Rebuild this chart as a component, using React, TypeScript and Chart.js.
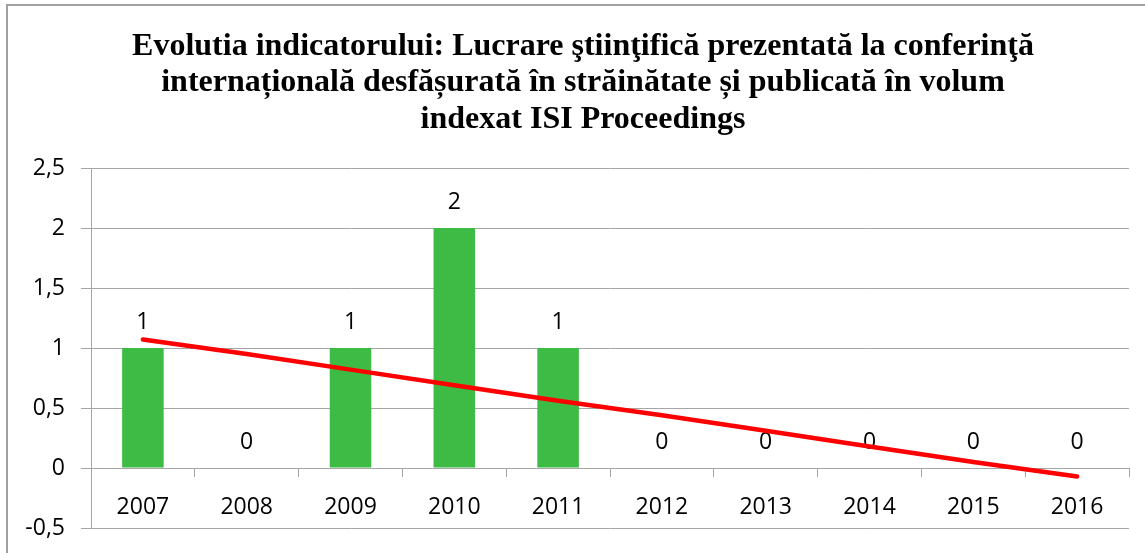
import React, { useEffect, useRef } from "react";
import { Chart, registerables } from "chart.js";

Chart.register(...registerables);

const years = ["2007", "2008", "2009", "2010", "2011", "2012", "2013", "2014", "2015", "2016"];
const values = [1, 0, 1, 2, 1, 0, 0, 0, 0, 0];
const trendValues = [1.07, 0.95, 0.82, 0.69, 0.56, 0.44, 0.31, 0.18, 0.05, -0.07];
const titleLines = [
  "Evolutia indicatorului: Lucrare ştiinţifică prezentată la conferinţă",
  "internațională desfășurată în străinătate și publicată în volum",
  "indexat ISI Proceedings",
];

const LABEL_FONT = "'Open Sans', 'Noto Sans', sans-serif";
const TITLE_FONT = "bold 32px 'Liberation Serif', 'Times New Roman', serif";
const GRID = "#a6a6a6";

const barLabels = {
  id: "barLabels",
  afterDatasetDraw(chart: any, args: any) {
    if (args.index !== 0) return;
    const ctx = chart.ctx;
    const meta = args.meta;
    ctx.save();
    ctx.font = `23px ${LABEL_FONT}`;
    ctx.fillStyle = "#000";
    ctx.textAlign = "center";
    ctx.textBaseline = "middle";
    meta.data.forEach((el: any, i: number) => {
      ctx.fillText(String(values[i]), el.x, el.y - 26);
    });
    ctx.restore();
  },
};

const chartTitle = {
  id: "chartTitle",
  afterDraw(chart: any) {
    const ctx = chart.ctx;
    ctx.save();
    ctx.font = TITLE_FONT;
    ctx.fillStyle = "#000";
    ctx.textAlign = "center";
    ctx.textBaseline = "middle";
    titleLines.forEach((line, i) => {
      ctx.fillText(line, 583, 46.5 + i * 36.5);
    });
    ctx.restore();
  },
};

export default function App() {
  const ref = useRef<HTMLCanvasElement | null>(null);
  useEffect(() => {
    if (!ref.current) return;
    const chart = new Chart(ref.current, {
      type: "bar",
      data: {
        labels: years,
        datasets: [
          {
            type: "bar",
            data: values,
            backgroundColor: "#3dbb44",
            categoryPercentage: 1,
            barPercentage: 0.4,
            order: 2,
          } as any,
          {
            type: "line",
            data: trendValues,
            borderColor: "#ff0000",
            borderWidth: 4.5,
            borderCapStyle: "round",
            pointRadius: 0,
            fill: false,
            order: 1,
          } as any,
        ],
      },
      options: {
        animation: false,
        responsive: false,
        devicePixelRatio: 1,
        layout: { padding: { top: 168, left: 0, right: 16, bottom: 25 } },
        plugins: {
          legend: { display: false },
          tooltip: { enabled: false },
          title: { display: false },
        },
        scales: {
          x: {
            type: "category",
            position: { y: 0 } as any,
            offset: true,
            afterFit: (scale: any) => {
              scale.height = 0;
              scale.paddingTop = 0;
              scale.paddingBottom = 0;
            },
            grid: {
              offset: true,
              drawOnChartArea: false,
              drawTicks: true,
              tickLength: 8,
              color: GRID,
            },
            border: { display: true, color: GRID },
            ticks: {
              color: "#000",
              font: { family: LABEL_FONT, size: 23 },
              padding: 18,
              maxRotation: 0,
            },
          },
          y: {
            min: -0.5,
            max: 2.5,
            afterFit: (scale: any) => {
              scale.width = 91;
              scale.paddingTop = 0;
              scale.paddingBottom = 0;
            },
            ticks: {
              stepSize: 0.5,
              color: "#000",
              font: { family: LABEL_FONT, size: 23 },
              padding: 16,
              callback: (v: any) => String(v).replace(".", ","),
            },
            grid: { color: GRID, tickLength: 10 },
            border: { display: true, color: GRID },
          },
        },
      },
      plugins: [barLabels, chartTitle],
    });
    return () => chart.destroy();
  }, []);
  return (
    <div style={{ position: "fixed", left: 0, top: 0, width: 1145, height: 553, overflow: "hidden", background: "#fff" }}>
      <div
        style={{
          position: "absolute",
          left: 6,
          top: 4,
          width: 1300,
          height: 700,
          borderTop: "2px solid #a0a0a0",
          borderLeft: "2px solid #a0a0a0",
        }}
      />
      <canvas ref={ref} width={1145} height={553} style={{ position: "absolute", left: 0, top: 0 }} />
    </div>
  );
}
